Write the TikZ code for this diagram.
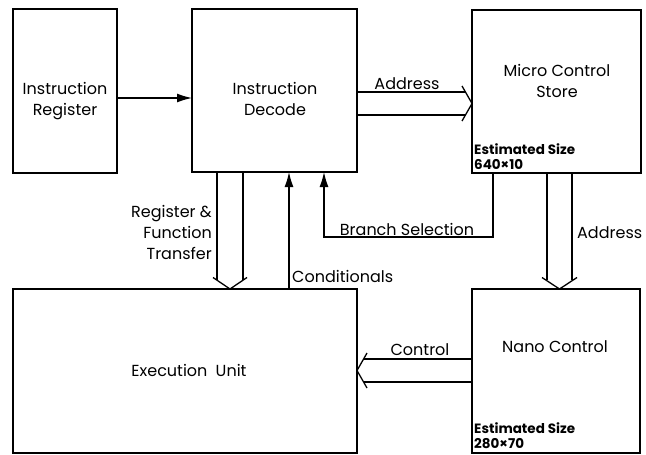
\documentclass[tikz,border=0pt]{standalone}
\usepackage{fontspec}
\setmainfont{Poppins}
\usetikzlibrary{arrows.meta,calc}
\tikzset{
  blk/.style={draw, line width=2.7pt, inner sep=0pt, outer sep=0pt},
  conn/.style={line width=1.3pt},
  lbl/.style={inner sep=0pt, align=center, font=\fontsize{16}{21}\selectfont},
  sml/.style={inner sep=0pt, align=left, font=\fontsize{13.5}{15}\selectfont\bfseries},
  tip/.style={-{Latex[length=15pt,width=9pt]}}
}
\begin{document}
\begin{tikzpicture}[x=1pt,y=-1pt]
\useasboundingbox (0,0) rectangle (646,455);
% blocks
\node[blk, minimum width=104pt, minimum height=164pt] (ir)  at (65,91) {};
\node[blk, minimum width=165pt, minimum height=163pt] (id)  at (274.5,90.5) {};
\node[blk, minimum width=169pt, minimum height=163pt] (mcs) at (556.5,91.5) {};
\node[blk, minimum width=344pt, minimum height=164pt] (eu)  at (185,371) {};
\node[blk, minimum width=168pt, minimum height=164pt] (nc)  at (556,371) {};
% block texts (base anchor = last line)
\node[lbl, anchor=base] (irt)  at (65,115)  {Instruction\\Register};
\node[lbl, anchor=base] (idt)  at (275,115) {Instruction\\Decode};
\node[lbl, anchor=base] (mcst) at (557,97) {Micro Control\\Store};
\node[lbl, anchor=base] (nct)  at (555,352) {Nano Control};
\node[lbl, anchor=base] (eut)  at (189,376) {Execution\hspace{4pt} Unit};
\node[sml, anchor=base west] (mcss) at (474,169) {Estimated Size\\640×10};
\node[sml, anchor=base west] (ncs)  at (474,448) {Estimated Size\\280×70};
% IR -> ID
\draw[conn, tip] ($(ir.east)+(0,7)$) -- ($(id.west)+(0,7.5)$);
% Address: ID -> MCS (hollow)
\draw[conn] ($(id.east)+(0,1.5)$) -- ($(mcs.west)+(-6.5,0.5)$);
\draw[conn] ($(id.east)+(0,24.5)$) -- ($(mcs.west)+(-6.5,23.5)$);
\draw[conn] ($(mcs.west)+(-10,-5.5)$) -- ($(mcs.west)+(0,12)$) -- ($(mcs.west)+(-10,29.5)$);
\node[lbl, anchor=base] (adr1) at (407,89) {Address};
% Register & Function Transfer: ID -> EU (hollow)
\draw[conn] ($(id.south)+(-57.5,0)$) -- ($(eu.north)+(32,-9)$);
\draw[conn] ($(id.south)+(-31.5,0)$) -- ($(eu.north)+(58,-9)$);
\draw[conn] ($(eu.north)+(28,-11.5)$) -- ($(eu.north)+(45,0)$) -- ($(eu.north)+(62,-11.5)$);
\node[lbl, anchor=base east, align=right] (rft) at (212,259) {Register \&\\Function\\Transfer};
% Conditionals: EU -> ID
\draw[conn, tip] ($(eu.north)+(104,0)$) -- ($(id.south)+(14.5,0)$);
\node[lbl, anchor=base west] (cond) at (292,282) {Conditionals};
% Branch Selection: MCS -> ID
\draw[conn, tip] ($(mcs.south)+(-63.5,0)$) |- ($(id.south)+(49.5,65)$) -- ($(id.south)+(49.5,0)$);
\node[lbl, anchor=base] (brs) at (407,235) {Branch Selection};
% Address: MCS -> NC (hollow)
\draw[conn] ($(mcs.south)+(-9.5,0)$) -- ($(nc.north)+(-9,-9)$);
\draw[conn] ($(mcs.south)+(15.5,0)$) -- ($(nc.north)+(16,-9)$);
\draw[conn] ($(nc.north)+(-14,-11.5)$) -- ($(nc.north)+(3.5,0)$) -- ($(nc.north)+(21,-11.5)$);
\node[lbl, anchor=base west] (adr2) at (577,238) {Address};
% Control: NC -> EU (hollow)
\draw[conn] ($(nc.west)+(0,-12)$) -- ($(eu.east)+(6.5,-12)$);
\draw[conn] ($(nc.west)+(0,11)$) -- ($(eu.east)+(6.5,11)$);
\draw[conn] ($(eu.east)+(10,-18)$) -- ($(eu.east)+(0,-0.5)$) -- ($(eu.east)+(10,17)$);
\node[lbl, anchor=base] (ctl) at (420,355) {Control};
\end{tikzpicture}
\end{document}
